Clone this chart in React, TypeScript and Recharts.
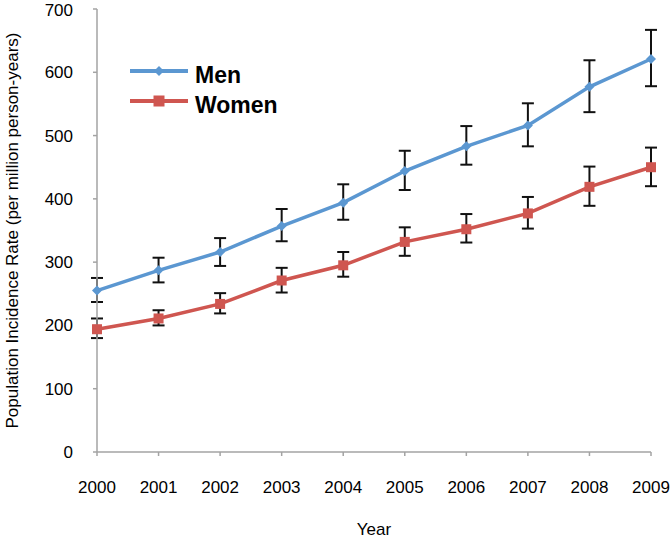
import React from 'react';
import { LineChart, Line, XAxis, YAxis, ErrorBar, Legend } from 'recharts';

const years = ['2000', '2001', '2002', '2003', '2004', '2005', '2006', '2007', '2008', '2009'];
const yTicks = [0, 100, 200, 300, 400, 500, 600, 700];

const men = [255, 287, 316, 357, 394, 444, 483, 516, 577, 621];
const menLow = [237, 268, 294, 333, 367, 414, 454, 483, 537, 578];
const menHigh = [275, 307, 338, 384, 423, 476, 515, 551, 619, 667];

const women = [194, 211, 234, 271, 295, 332, 352, 377, 419, 450];
const womenLow = [180, 200, 219, 252, 277, 310, 331, 353, 389, 420];
const womenHigh = [211, 224, 251, 291, 316, 355, 376, 403, 451, 481];

const MEN_C = '#5b97d1';
const WOMEN_C = '#cf5650';
const AXIS_C = '#a3a3a3';
const FONT = '"Liberation Sans", Arial, sans-serif';

const rows = years.map((year, i) => ({
  year,
  men: men[i],
  menErr: [men[i] - menLow[i], menHigh[i] - men[i]],
  women: women[i],
  womenErr: [women[i] - womenLow[i], womenHigh[i] - women[i]],
}));

const Diamond = ({ cx, cy, fill, r = 5 }: { cx?: number; cy?: number; fill: string; r?: number }) => {
  if (cx == null || cy == null) return null;
  return <polygon points={`${cx},${cy - r} ${cx + r},${cy} ${cx},${cy + r} ${cx - r},${cy}`} fill={fill} />;
};

const Square = ({ cx, cy, fill, r = 5 }: { cx?: number; cy?: number; fill: string; r?: number }) => {
  if (cx == null || cy == null) return null;
  return <rect x={cx - r} y={cy - r} width={r * 2} height={r * 2} fill={fill} />;
};

const LegendBox = () => {
  const items = [
    { name: 'Men', color: MEN_C, y: 16, shape: 'diamond' },
    { name: 'Women', color: WOMEN_C, y: 46, shape: 'square' },
  ];
  return (
    <svg width={170} height={64} style={{ display: 'block' }}>
      {items.map((it) => (
        <g key={it.name}>
          <line x1={2} x2={60} y1={it.y} y2={it.y} stroke={it.color} strokeWidth={4} />
          {it.shape === 'diamond'
            ? <Diamond cx={31} cy={it.y} fill={it.color} r={5} />
            : <Square cx={31} cy={it.y} fill={it.color} r={5.5} />}
          <text x={67} y={it.y + 12} fontFamily={FONT} fontSize={23} fontWeight="bold" fill="#000">{it.name}</text>
        </g>
      ))}
    </svg>
  );
};

export default function App() {
  return (
    <div style={{ position: 'absolute', left: 0, top: 0, width: 672, height: 539, background: '#fff' }}>
      <LineChart width={672} height={539} data={rows} margin={{ top: 9, right: 21, bottom: 0, left: 0 }}>
        <XAxis
          dataKey="year"
          height={87}
          stroke={AXIS_C}
          strokeWidth={1.5}
          tickSize={4}
          tickMargin={25}
          tick={{ fill: '#000', fontSize: 17, fontFamily: FONT }}
          label={{ value: 'Year', position: 'insideBottom', offset: 4, style: { fill: '#000', fontSize: 17, fontFamily: FONT } }}
        />
        <YAxis
          width={97}
          domain={[0, 700]}
          ticks={yTicks}
          stroke={AXIS_C}
          strokeWidth={1.5}
          tickSize={4}
          tickMargin={20}
          tick={{ fill: '#000', fontSize: 17, fontFamily: FONT }}
          label={{
            value: 'Population Incidence Rate (per million person-years)',
            angle: -90,
            position: 'insideLeft',
            offset: 12,
            style: { textAnchor: 'middle', fill: '#000', fontSize: 17, fontFamily: FONT },
          }}
        />
        <Legend
          layout="vertical"
          align="center"
          verticalAlign="middle"
          wrapperStyle={{ left: 128, top: 55, width: 170, height: 64 }}
          content={() => <LegendBox />}
        />
        <Line
          dataKey="men"
          name="Men"
          stroke={MEN_C}
          strokeWidth={3.5}
          isAnimationActive={false}
          dot={(p: any) => <Diamond key={p.index} cx={p.cx} cy={p.cy} fill={MEN_C} r={5} />}
        >
          <ErrorBar dataKey="menErr" width={6} stroke="#111" strokeWidth={2} isAnimationActive={false} />
        </Line>
        <Line
          dataKey="women"
          name="Women"
          stroke={WOMEN_C}
          strokeWidth={3.5}
          isAnimationActive={false}
          dot={(p: any) => <Square key={p.index} cx={p.cx} cy={p.cy} fill={WOMEN_C} r={5} />}
        >
          <ErrorBar dataKey="womenErr" width={6} stroke="#111" strokeWidth={2} isAnimationActive={false} />
        </Line>
      </LineChart>
    </div>
  );
}
